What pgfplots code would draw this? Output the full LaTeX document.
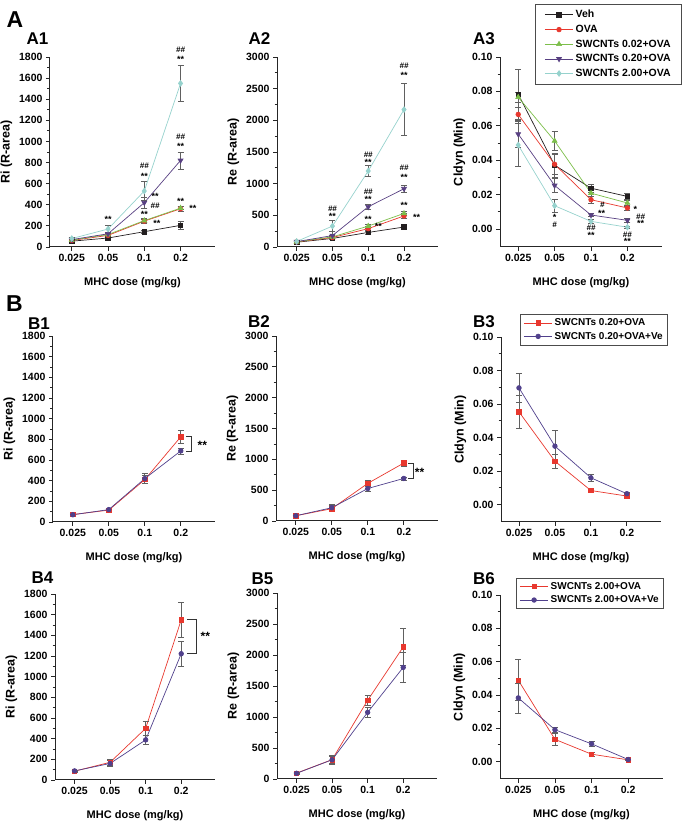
\documentclass[border=0pt]{standalone}
\usepackage{pgfplots}
\pgfplotsset{compat=1.18}
\usepackage{fontspec}
\setmainfont{Liberation Sans}
\definecolor{vehc}{RGB}{35,31,32}
\definecolor{ovac}{RGB}{232,56,46}
\definecolor{gc}{RGB}{124,190,74}
\definecolor{pc}{RGB}{88,64,130}
\definecolor{cc}{RGB}{150,210,205}
\definecolor{bpc}{RGB}{80,64,140}
\newcommand{\ann}{\bfseries\fontsize{9}{10}\selectfont}
\newcommand{\hh}{\bfseries\itshape\fontsize{8}{9}\selectfont}
\pgfplotsset{
  orig/.style={
    scale only axis, width=163pt,
    xmin=-0.55, xmax=3.95,
    axis x line*=bottom, axis y line*=left,
    axis line style={-, line width=1pt, black!85},
    tick align=outside,
    xtick={0,1,2,3}, xticklabels={0.025,0.05,0.1,0.2},
    minor y tick num=1,
    major tick length=4pt, minor tick length=2.5pt,
    tick style={line width=0.8pt, black!85},
    ticklabel style={font=\bfseries\fontsize{10.5}{12}\selectfont},
    /pgf/number format/assume math mode=true,
    /pgf/number format/1000 sep={},
    xlabel={MHC dose (mg/kg)},
    xlabel style={font=\bfseries\fontsize{11}{12}\selectfont, yshift=-9pt},
    ylabel style={font=\bfseries\fontsize{12.5}{14}\selectfont},
    clip=false,
    error bars/y dir=both, error bars/y explicit,
    error bars/error bar style={gray!75!black, line width=0.6pt, solid},
    error bars/error mark options={rotate=90, mark size=3pt, gray!75!black, line width=0.6pt},
    legend cell align=left,
    legend image code/.code={\draw[mark repeat=2,mark phase=2,#1] plot coordinates {(0cm,0cm) (0.5cm,0cm) (1.0cm,0cm)};},
  },
  cld/.style={ymin=-0.0105, ymax=0.1, ytick={0,0.02,0.04,0.06,0.08,0.1},
    yticklabel style={/pgf/number format/fixed, /pgf/number format/fixed zerofill, /pgf/number format/precision=2},
    ylabel={Cldyn (Min)}},
  ri/.style={ymin=0, ymax=1800, ytick distance=200, ylabel={Ri (R-area)}},
  re/.style={ymin=0, ymax=3000, ytick distance=500, ylabel={Re (R-area)}},
  sveh/.style={color=vehc, line width=0.7pt, mark=square*, mark size=2.2pt, mark options={solid, fill=vehc}},
  sova/.style={color=ovac, line width=0.7pt, mark=*, mark size=2.3pt, mark options={solid, fill=ovac}},
  sg/.style={color=gc, line width=0.7pt, mark=triangle*, mark size=2.8pt, mark options={solid, fill=gc}},
  sp/.style={color=pc, line width=0.7pt, mark=triangle*, mark size=2.8pt, mark options={solid, fill=pc, rotate=180}},
  sc/.style={color=cc, line width=0.7pt, mark=diamond*, mark size=2.8pt, mark options={solid, fill=cc}},
  bred/.style={color=ovac, line width=0.7pt, mark=square*, mark size=2.2pt, mark options={solid, fill=ovac}},
  bpur/.style={color=bpc, line width=0.7pt, mark=*, mark size=2.3pt, mark options={solid, fill=bpc}},
  bleg/.style={legend style={draw=gray!60!black, line width=0.6pt, fill=white, font=\bfseries\fontsize{10}{11}\selectfont, inner xsep=3pt, inner ysep=2.5pt, row sep=1pt, anchor=north east}},
}
\begin{document}
\begin{tikzpicture}
% ---------------- A1 ----------------
\begin{axis}[orig, ri, at={(50pt,575pt)}, anchor=south west, width=165pt, height=190pt, xmin=-0.6]
\addplot+[sveh] coordinates {(0,55) +- (0,12) (1,85) +- (0,12) (2,145) +- (0,15) (3,205) +- (0,35)};
\addplot+[sova] coordinates {(0,62) +- (0,10) (1,110) +- (0,15) (2,245) +- (0,20) (3,362) +- (0,20)};
\addplot+[sg] coordinates {(0,65) +- (0,10) (1,118) +- (0,15) (2,250) +- (0,20) (3,368) +- (0,15)};
\addplot+[sp] coordinates {(0,70) +- (0,10) (1,125) +- (0,15) (2,420) +- (0,50) (3,820) +- (0,80)};
\addplot+[sc] coordinates {(0,80) +- (0,10) (1,170) +- (0,35) (2,530) +- (0,90) (3,1550) +- (0,170)};
\node[font=\ann] at (axis cs:1,262) {**};
\node[font=\hh] at (axis cs:2,765) {\#\#};
\node[font=\ann] at (axis cs:2,672) {**};
\node[font=\ann] at (axis cs:2.3,480) {**};
\node[font=\hh] at (axis cs:2.3,390) {\#\#};
\node[font=\ann] at (axis cs:2,311) {**};
\node[font=\ann] at (axis cs:2.35,228) {**};
\node[font=\hh] at (axis cs:3,1868) {\#\#};
\node[font=\ann] at (axis cs:3,1775) {**};
\node[font=\hh] at (axis cs:3,1044) {\#\#};
\node[font=\ann] at (axis cs:3,952) {**};
\node[font=\ann] at (axis cs:3,428) {**};
\node[font=\ann] at (axis cs:3.34,362) {**};
\end{axis}
% ---------------- A2 ----------------
\begin{axis}[orig, re, at={(277pt,575pt)}, anchor=south west, width=161pt, height=190pt]
\addplot+[sveh] coordinates {(0,75) +- (0,10) (1,135) +- (0,20) (2,230) +- (0,25) (3,315) +- (0,20)};
\addplot+[sova] coordinates {(0,80) +- (0,10) (1,150) +- (0,20) (2,290) +- (0,30) (3,490) +- (0,40)};
\addplot+[sg] coordinates {(0,82) +- (0,10) (1,160) +- (0,20) (2,330) +- (0,30) (3,530) +- (0,30)};
\addplot+[sp] coordinates {(0,85) +- (0,10) (1,180) +- (0,60) (2,635) +- (0,45) (3,920) +- (0,60)};
\addplot+[sc] coordinates {(0,88) +- (0,10) (1,330) +- (0,90) (2,1200) +- (0,85) (3,2170) +- (0,410)};
\node[font=\hh] at (axis cs:1,603) {\#\#};
\node[font=\ann] at (axis cs:1,480) {**};
\node[font=\hh] at (axis cs:2,1463) {\#\#};
\node[font=\ann] at (axis cs:2,1335) {**};
\node[font=\hh] at (axis cs:2,876) {\#\#};
\node[font=\ann] at (axis cs:2,756) {**};
\node[font=\ann] at (axis cs:2,428) {**};
\node[font=\ann] at (axis cs:2.28,322) {**};
\node[font=\hh] at (axis cs:3,2858) {\#\#};
\node[font=\ann] at (axis cs:3,2704) {**};
\node[font=\hh] at (axis cs:3,1253) {\#\#};
\node[font=\ann] at (axis cs:3,1098) {**};
\node[font=\ann] at (axis cs:3,652) {**};
\node[font=\ann] at (axis cs:3.35,468) {**};
\end{axis}
% ---------------- A3 ----------------
\begin{axis}[orig, cld, at={(500pt,575pt)}, anchor=south west, width=162pt, height=190pt, xmin=-0.5,
  legend style={at={(1.123,1.279)}, anchor=north east, draw=gray!60!black, line width=0.6pt, fill=white,
  font=\bfseries\fontsize{10.5}{12}\selectfont, inner xsep=9pt, inner ysep=4pt, row sep=1.8pt}]
\addplot+[sveh] coordinates {(0,0.0784) +- (0,0.0145) (1,0.0371) +- (0,0.007) (2,0.0237) +- (0,0.0025) (3,0.0189) +- (0,0.002)};
\addplot+[sova] coordinates {(0,0.0666) +- (0,0.004) (1,0.0376) +- (0,0.006) (2,0.0170) +- (0,0.002) (3,0.0122) +- (0,0.0015)};
\addplot+[sg] coordinates {(0,0.0766) +- (0,0.003) (1,0.0512) +- (0,0.0055) (2,0.0208) +- (0,0.002) (3,0.0151) +- (0,0.002)};
\addplot+[sp] coordinates {(0,0.0552) +- (0,0.008) (1,0.0253) +- (0,0.004) (2,0.0081) +- (0,0.001) (3,0.0050) +- (0,0.001)};
\addplot+[sc] coordinates {(0,0.0488) +- (0,0.0125) (1,0.0135) +- (0,0.0038) (2,0.0044) +- (0,0.001) (3,0.0010) +- (0,0.0008)};
\legend{Veh, OVA, SWCNTs 0.02+OVA, SWCNTs 0.20+OVA, SWCNTs 2.00+OVA}
\node[font=\ann] at (axis cs:1,0.0068) {*};
\node[font=\hh] at (axis cs:1,0.0025) {\#};
\node[font=\hh] at (axis cs:2.31,0.0139) {\#};
\node[font=\ann] at (axis cs:2.29,0.0093) {**};
\node[font=\hh] at (axis cs:2,0.0006) {\#\#};
\node[font=\ann] at (axis cs:2,-0.0036) {**};
\node[font=\ann] at (axis cs:3.22,0.0113) {*};
\node[font=\hh] at (axis cs:3.36,0.0073) {\#\#};
\node[font=\ann] at (axis cs:3.36,0.0032) {**};
\node[font=\hh] at (axis cs:3,-0.0033) {\#\#};
\node[font=\ann] at (axis cs:3,-0.0075) {**};
\end{axis}
% ---------------- B1 ----------------
\begin{axis}[orig, ri, at={(53pt,300pt)}, anchor=south west, width=162pt, height=186pt]
\addplot+[bred] coordinates {(0,72) +- (0,10) (1,115) +- (0,15) (2,410) +- (0,40) (3,825) +- (0,60)};
\addplot+[bpur] coordinates {(0,70) +- (0,8) (1,120) +- (0,12) (2,420) +- (0,50) (3,688) +- (0,30)};
\draw[line width=0.7pt, black!80] (axis cs:3.14,825) -- (axis cs:3.3,825) -- (axis cs:3.3,688) -- (axis cs:3.14,688);
\node[font=\bfseries\fontsize{12}{13}\selectfont] at (axis cs:3.6,745) {**};
\end{axis}
% ---------------- B2 ----------------
\begin{axis}[orig, re, at={(276pt,301pt)}, anchor=south west, width=162pt, height=185pt]
\addplot+[bred] coordinates {(0,85) +- (0,10) (1,200) +- (0,50) (2,610) +- (0,50) (3,940) +- (0,45)};
\addplot+[bpur] coordinates {(0,85) +- (0,10) (1,215) +- (0,50) (2,527) +- (0,40) (3,690) +- (0,25)};
\draw[line width=0.7pt, black!80] (axis cs:3.12,940) -- (axis cs:3.27,940) -- (axis cs:3.27,690) -- (axis cs:3.12,690);
\node[font=\bfseries\fontsize{12}{13}\selectfont] at (axis cs:3.44,790) {**};
\end{axis}
% ---------------- B3 ----------------
\begin{axis}[orig, cld, bleg, at={(501pt,300pt)}, anchor=south west, width=160pt, height=185pt, xmin=-0.5,
  legend style={at={(1.044,1.125)}}]
\addplot+[bred] coordinates {(0,0.0553) +- (0,0.0096) (1,0.0258) +- (0,0.004) (2,0.0083) +- (0,0.001) (3,0.0050) +- (0,0.0008)};
\addplot+[bpur] coordinates {(0,0.0696) +- (0,0.0088) (1,0.0348) +- (0,0.0096) (2,0.0159) +- (0,0.002) (3,0.0064) +- (0,0.001)};
\legend{SWCNTs 0.20+OVA, SWCNTs 0.20+OVA+Ve}
\end{axis}
% ---------------- B4 ----------------
\begin{axis}[orig, ri, at={(55pt,42pt)}, anchor=south west, width=160pt, height=186pt]
\addplot+[bred] coordinates {(0,85) +- (0,8) (1,171) +- (0,25) (2,500) +- (0,70) (3,1550) +- (0,170)};
\addplot+[bpur] coordinates {(0,88) +- (0,8) (1,160) +- (0,30) (2,388) +- (0,40) (3,1222) +- (0,125)};
\draw[line width=0.7pt, black!80] (axis cs:3.17,1550) -- (axis cs:3.42,1550) -- (axis cs:3.42,1222) -- (axis cs:3.17,1222);
\node[font=\bfseries\fontsize{12}{13}\selectfont] at (axis cs:3.68,1390) {**};
\end{axis}
% ---------------- B5 ----------------
\begin{axis}[orig, re, at={(277pt,43pt)}, anchor=south west, width=160pt, height=186pt]
\addplot+[bred] coordinates {(0,95) +- (0,10) (1,312) +- (0,60) (2,1270) +- (0,85) (3,2130) +- (0,300)};
\addplot+[bpur] coordinates {(0,92) +- (0,10) (1,310) +- (0,65) (2,1075) +- (0,75) (3,1800) +- (0,240)};
\end{axis}
% ---------------- B6 ----------------
\begin{axis}[orig, cld, bleg, at={(500pt,43pt)}, anchor=south west, width=163pt, height=184pt, xmin=-0.5,
  legend style={at={(1.006,1.095)}}]
\addplot+[bred] coordinates {(0,0.0488) +- (0,0.0123) (1,0.0133) +- (0,0.0037) (2,0.0044) +- (0,0.0012) (3,0.0010) +- (0,0.0004)};
\addplot+[bpur] coordinates {(0,0.0382) +- (0,0.009) (1,0.0191) +- (0,0.0013) (2,0.0106) +- (0,0.0017) (3,0.0012) +- (0,0.0004)};
\legend{SWCNTs 2.00+OVA, SWCNTs 2.00+OVA+Ve}
\end{axis}
% ---------------- panel letters ----------------
\node[font=\bfseries\fontsize{23}{25}\selectfont] at (15pt,802pt) {A};
\node[font=\bfseries\fontsize{17}{19}\selectfont] at (37.5pt,783pt) {A1};
\node[font=\bfseries\fontsize{17}{19}\selectfont] at (259.5pt,783pt) {A2};
\node[font=\bfseries\fontsize{17}{19}\selectfont] at (484pt,783pt) {A3};
\node[font=\bfseries\fontsize{23}{25}\selectfont] at (14.5pt,518.5pt) {B};
\node[font=\bfseries\fontsize{17}{19}\selectfont] at (39pt,498.5pt) {B1};
\node[font=\bfseries\fontsize{17}{19}\selectfont] at (259pt,500.5pt) {B2};
\node[font=\bfseries\fontsize{17}{19}\selectfont] at (484pt,500.5pt) {B3};
\node[font=\bfseries\fontsize{17}{19}\selectfont] at (42.5pt,244.5pt) {B4};
\node[font=\bfseries\fontsize{17}{19}\selectfont] at (262.5pt,243.5pt) {B5};
\node[font=\bfseries\fontsize{17}{19}\selectfont] at (484pt,243pt) {B6};
\pgfresetboundingbox
\useasboundingbox (0,0) rectangle (685pt,822pt);
\end{tikzpicture}
\end{document}
